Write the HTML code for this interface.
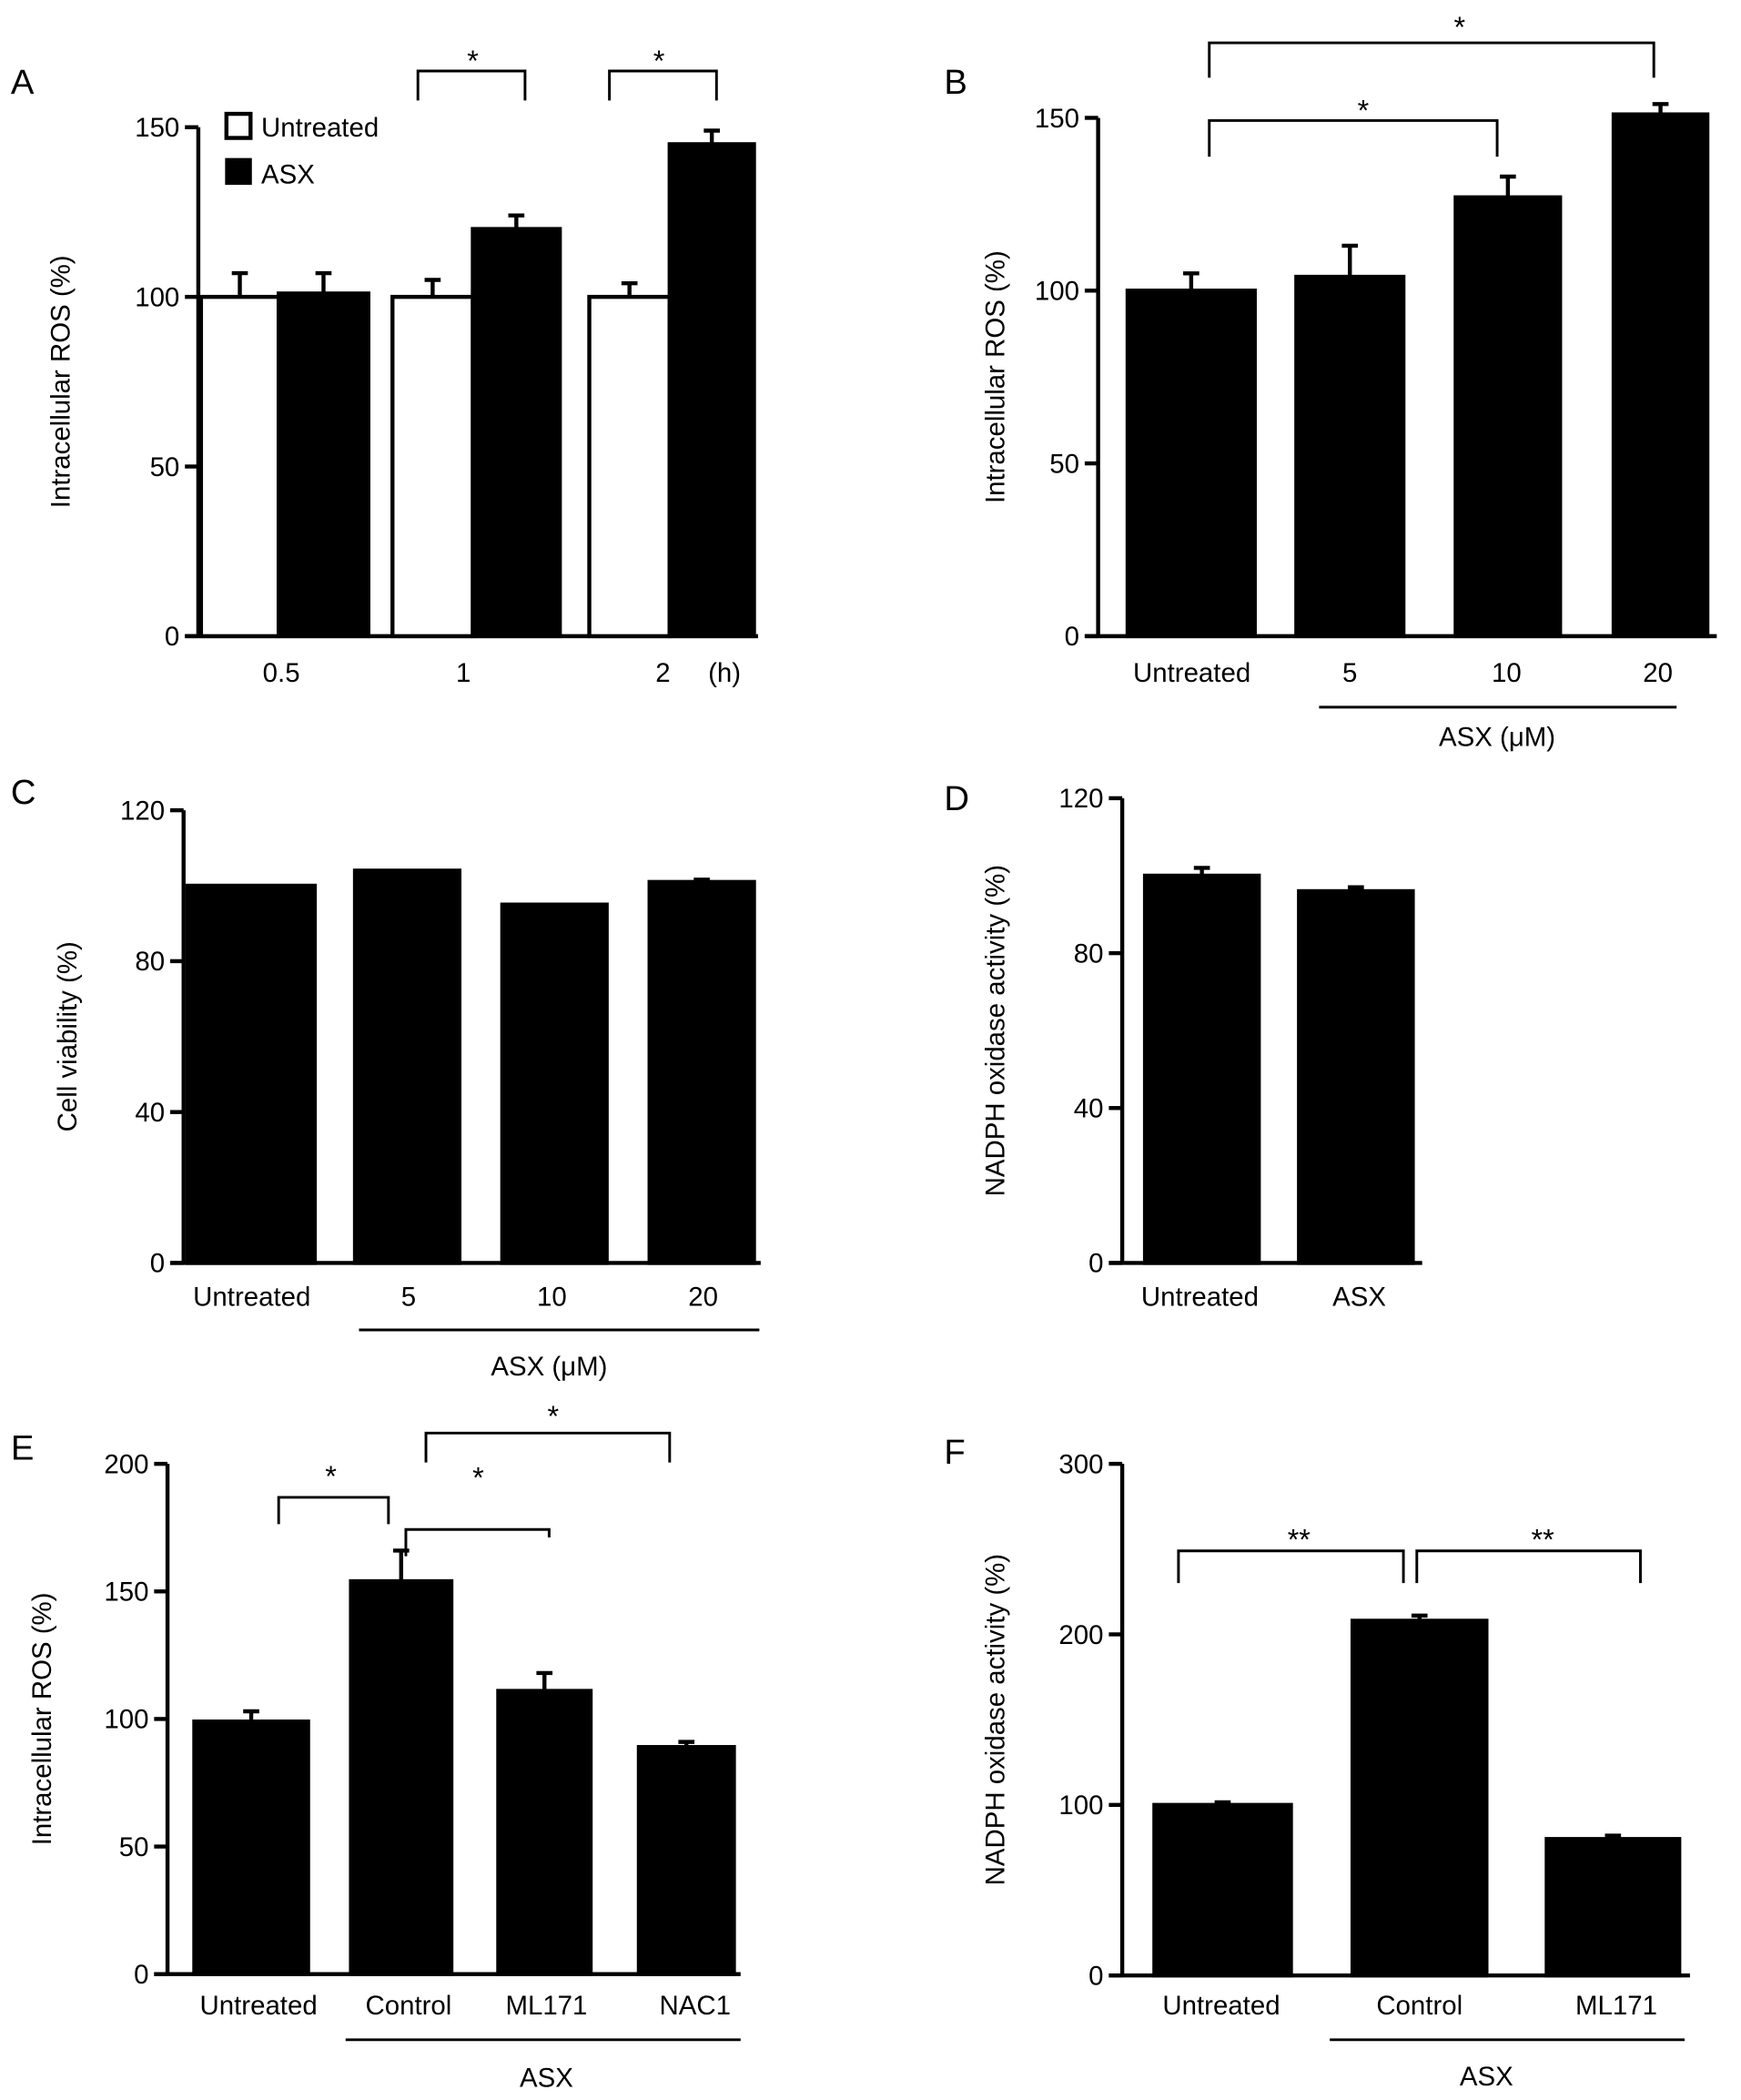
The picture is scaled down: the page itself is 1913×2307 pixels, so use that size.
<!DOCTYPE html>
<html><head><meta charset="utf-8"><style>
html,body{margin:0;padding:0;background:#fff}
svg{display:block}
text{font-family:"Liberation Sans",Arial,sans-serif;fill:#000}
</style></head><body>
<svg id="fig" width="1913" height="2307" viewBox="0 0 1300 1568" xmlns="http://www.w3.org/2000/svg"></svg>
<script>
// Panel A
const aCats=["0.5","1","2"];
const aUntreated=[100,100,100];
const aUntreatedErr=[7,5,4];
const aAsx=[101,120,145];
const aAsxErr=[6,4,4];
const aTicks=[0,50,100,150];
// Panel B
const bCats=["Untreated","5","10","20"];
const bVals=[100,104,127,151];
const bErr=[5,9,6,3];
const bTicks=[0,50,100,150];
// Panel C
const cCats=["Untreated","5","10","20"];
const cVals=[100,104,95,101];
const cErr=[0,0,0,0.6];
const cTicks=[0,40,80,120];
// Panel D
const dCats=["Untreated","ASX"];
const dVals=[100,96];
const dErr=[2,1];
const dTicks=[0,40,80,120];
// Panel E
const eCats=["Untreated","Control","ML171","NAC1"];
const eVals=[99,154,111,89];
const eErr=[4,12,7,2];
const eTicks=[0,50,100,150,200];
// Panel F
const fCats=["Untreated","Control","ML171"];
const fVals=[100,208,80];
const fErr=[1.5,3,2];
const fTicks=[0,100,200,300];

const NS="http://www.w3.org/2000/svg";
const svg=document.getElementById('fig');
function el(tag,attrs,parent){const e=document.createElementNS(NS,tag);for(const k in attrs)e.setAttribute(k,attrs[k]);(parent||svg).appendChild(e);return e;}
function txt(s,x,y,size,anchor,parent){const t=el('text',{x:x,y:y,'font-size':size,'text-anchor':anchor||'middle'},parent);t.textContent=s;return t;}

function axes(g,ax,y0,ytop,vmax,ticks,xend,ylabel,lx){
  const ys=v=>y0-(v/vmax)*(y0-ytop);
  const yl=el('line',{x1:ax,y1:y0,x2:ax,y2:ytop,stroke:'#000','stroke-width':3},g);
  
  
  const xl=el('line',{x1:ax-10,y1:y0,x2:xend,y2:y0,stroke:'#000','stroke-width':3},g);
  
  
  ticks.forEach(t=>{
    el('line',{x1:ax-10,y1:ys(t),x2:ax,y2:ys(t),stroke:'#000','stroke-width':3},g);
    const tl=txt(String(t),ax-14,ys(t)+7,20,'end',g);
    
    
  });
  const lab=txt(ylabel,0,0,20,'middle',g);
  lab.setAttribute('transform','translate('+lx+','+ys(vmax/2)+') rotate(-90)');
  
  
  return ys;
}
function bar(g,x1,x2,v,err,ys,y0,fill){
  const r=el('rect',{x:x1,y:ys(v),width:x2-x1,height:y0-ys(v),fill:fill,stroke:'#000','stroke-width':3},g);
  
  
  if(err>0){
    const cx=(x1+x2)/2;
    el('line',{x1:cx,y1:ys(v),x2:cx,y2:ys(v+err),stroke:'#000','stroke-width':3},g);
    el('line',{x1:cx-6,y1:ys(v+err),x2:cx+6,y2:ys(v+err),stroke:'#000','stroke-width':3},g);
  }
}
function bracket(g,x1,x2,top,l1,l2,star,sx,sy){
  const p=el('path',{d:'M'+x1+','+l1+' V'+top+' H'+x2+' V'+l2,fill:'none',stroke:'#000','stroke-width':2},g);
  
  
  const s=txt(star,sx,sy,22,'middle',g);
  
  
}
function group(name){const g=el('g',{});return g;}
function letter(g,s,x,y){const t=txt(s,x,y,26,'start',g);}
function xlabels(g,cats,xs,y){cats.forEach((c,i)=>{const t=txt(c,xs[i],y,20,'middle',g);});}
function underline(g,x1,x2,y,label,lx,ly){
  const l=el('line',{x1:x1,y1:y,x2:x2,y2:y,stroke:'#000','stroke-width':2},g);
  
  
  const t=txt(label,lx,ly,20,'middle',g);
  
  
}

// A
(function(){
  const g=group('panel-a');letter(g,'A',8,70);
  const y0=475, ys=axes(g,148,y0,95,150,aTicks,566,'Intracellular ROS (%)',52);
  const ux=[[150,208],[293,353],[440,500]], ax=[[208,275],[353,418],[500,563]];
  aCats.forEach((c,i)=>{bar(g,ux[i][0],ux[i][1],aUntreated[i],aUntreatedErr[i],ys,y0,'#fff');bar(g,ax[i][0],ax[i][1],aAsx[i],aAsxErr[i],ys,y0,'#000');});
  xlabels(g,aCats,[210,346,495],509);
  txt('(h)',541,509,20,'middle',g);
  bracket(g,312,392,53,75,75,'*',353,53);
  bracket(g,455,535,53,75,75,'*',492,53);
  const l1=el('rect',{x:169,y:85,width:18,height:18,fill:'#fff',stroke:'#000','stroke-width':3},g);
  
  txt('Untreated',195,102,20,'start',g);
  const l2=el('rect',{x:168,y:118,width:20,height:20,fill:'#000'},g);
  
  txt('ASX',195,137,20,'start',g);
})();
// B
(function(){
  const g=group('panel-b');letter(g,'B',705,70);
  const y0=475, ys=axes(g,820,y0,88,150,bTicks,1282,'Intracellular ROS (%)',750);
  const xs=[[842,937],[968,1048],[1087,1165],[1205,1275]];
  bCats.forEach((c,i)=>bar(g,xs[i][0],xs[i][1],bVals[i],bErr[i],ys,y0,'#000'));
  xlabels(g,bCats,[890,1008,1125,1238],509);
  underline(g,985,1252,528,'ASX (μM)',1118,557);
  bracket(g,903,1118,90,117,117,'*',1018,90);
  bracket(g,903,1235,32,58,58,'*',1090,28);
})();
// C
(function(){
  const g=group('panel-c');letter(g,'C',8,600);
  const y0=943, ys=axes(g,137,y0,605,120,cTicks,568,'Cell viability (%)',57);
  const xs=[[140,235],[265,343],[375,453],[485,563]];
  cCats.forEach((c,i)=>bar(g,xs[i][0],xs[i][1],cVals[i],cErr[i],ys,y0,'#000'));
  xlabels(g,cCats,[188,305,412,525],975);
  underline(g,268,567,993,'ASX (μM)',410,1027);
})();
// D
(function(){
  const g=group('panel-d');letter(g,'D',705,605);
  const y0=943, ys=axes(g,838,y0,596,120,dTicks,1062,'NADPH oxidase activity (%)',750);
  const xs=[[855,940],[970,1055]];
  dCats.forEach((c,i)=>bar(g,xs[i][0],xs[i][1],dVals[i],dErr[i],ys,y0,'#000'));
  xlabels(g,dCats,[896,1015],975);
})();
// E
(function(){
  const g=group('panel-e');letter(g,'E',8,1090);
  const y0=1474, ys=axes(g,125,y0,1093,200,eTicks,553,'Intracellular ROS (%)',38);
  const xs=[[145,230],[262,337],[372,441],[477,548]];
  eCats.forEach((c,i)=>bar(g,xs[i][0],xs[i][1],eVals[i],eErr[i],ys,y0,'#000'));
  xlabels(g,eCats,[193,305,408,519],1504);
  underline(g,258,553,1523,'ASX',408,1558);
  bracket(g,208,290,1118,1138,1138,'*',247,1110);
  bracket(g,303,410,1142,1162,1148,'*',357,1111);
  bracket(g,318,500,1070,1092,1092,'*',413,1065);
})();
// F
(function(){
  const g=group('panel-f');letter(g,'F',705,1093);
  const y0=1475, ys=axes(g,838,y0,1093,300,fTicks,1262,'NADPH oxidase activity (%)',750);
  const xs=[[862,964],[1010,1110],[1155,1254]];
  fCats.forEach((c,i)=>bar(g,xs[i][0],xs[i][1],fVals[i],fErr[i],ys,y0,'#000'));
  xlabels(g,fCats,[912,1060,1207],1504);
  underline(g,993,1258,1523,'ASX',1110,1557);
  bracket(g,880,1048,1158,1182,1182,'**',970,1157);
  bracket(g,1058,1225,1158,1182,1182,'**',1152,1157);
})();
</script>
</body></html>
